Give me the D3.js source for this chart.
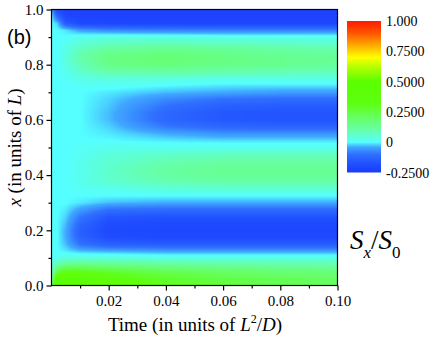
<!DOCTYPE html>
<html><head><meta charset="utf-8">
<script src="https://cdn.jsdelivr.net/npm/d3@7"></script>
<style>
body{margin:0;background:#fff}svg{display:block}
.serif, .serif text{font-family:"Liberation Serif","Times New Roman","DejaVu Serif",serif;}
svg text.sans{font-family:"Liberation Sans",Arial,"DejaVu Sans",sans-serif;}
</style>
</head><body>
<script>
// ---- data ----
const times = [0, 0.002, 0.005, 0.01, 0.02, 0.04, 0.06, 0.08, 0.1];
const positions = [1.000,0.975,0.950,0.925,0.900,0.875,0.850,0.825,0.800,0.775,0.750,0.725,0.700,0.675,0.650,0.625,0.600,0.575,0.550,0.525,0.500,0.475,0.450,0.425,0.400,0.375,0.350,0.325,0.300,0.275,0.250,0.225,0.200,0.175,0.150,0.125,0.100,0.075,0.050,0.025,0.000];
const values = [
 [-0.05,-0.20,-0.22,-0.22,-0.22,-0.22,-0.22,-0.22,-0.22],
 [ 0.00,-0.12,-0.21,-0.22,-0.22,-0.22,-0.22,-0.22,-0.22],
 [ 0.00,-0.02,-0.15,-0.20,-0.21,-0.21,-0.21,-0.21,-0.21],
 [ 0.00, 0.00,-0.01,-0.05,-0.07,-0.08,-0.08,-0.08,-0.08],
 [ 0.00, 0.00, 0.00, 0.02, 0.03, 0.03, 0.02, 0.02, 0.02],
 [ 0.00, 0.00, 0.02, 0.05, 0.08, 0.09, 0.08, 0.07, 0.06],
 [ 0.00, 0.00, 0.03, 0.08, 0.13, 0.15, 0.14, 0.12, 0.11],
 [ 0.00, 0.00, 0.04, 0.10, 0.16, 0.18, 0.16, 0.14, 0.13],
 [ 0.00, 0.00, 0.03, 0.08, 0.15, 0.17, 0.15, 0.14, 0.12],
 [ 0.00, 0.00, 0.02, 0.06, 0.10, 0.11, 0.10, 0.09, 0.08],
 [ 0.00, 0.00, 0.01, 0.03, 0.04, 0.04, 0.03, 0.03, 0.03],
 [ 0.00, 0.00, 0.00, 0.01, 0.01, 0.00,-0.01,-0.01,-0.01],
 [ 0.00, 0.00, 0.00, 0.00,-0.01,-0.03,-0.04,-0.05,-0.05],
 [ 0.00, 0.00, 0.00, 0.00,-0.02,-0.07,-0.10,-0.11,-0.11],
 [ 0.00, 0.00, 0.00, 0.00,-0.025,-0.10,-0.14,-0.15,-0.15],
 [ 0.00, 0.00, 0.00, 0.00,-0.03,-0.12,-0.16,-0.17,-0.17],
 [ 0.00, 0.00, 0.00, 0.00,-0.03,-0.12,-0.16,-0.17,-0.17],
 [ 0.00, 0.00, 0.00, 0.00,-0.02,-0.09,-0.12,-0.13,-0.13],
 [ 0.00, 0.00, 0.00, 0.00,-0.01,-0.04,-0.06,-0.06,-0.06],
 [ 0.00, 0.00, 0.00, 0.00, 0.00,-0.01,-0.015,-0.015,-0.015],
 [ 0.00, 0.00, 0.00, 0.01, 0.02, 0.02, 0.02, 0.02, 0.02],
 [ 0.00, 0.00, 0.00, 0.01, 0.04, 0.06, 0.07, 0.07, 0.07],
 [ 0.00, 0.00, 0.00, 0.02, 0.05, 0.09, 0.11, 0.11, 0.11],
 [ 0.00, 0.00, 0.00, 0.02, 0.06, 0.11, 0.13, 0.13, 0.13],
 [ 0.00, 0.00, 0.00, 0.02, 0.06, 0.11, 0.13, 0.13, 0.13],
 [ 0.00, 0.00, 0.00, 0.02, 0.05, 0.09, 0.10, 0.10, 0.10],
 [ 0.00, 0.00, 0.00, 0.01, 0.02, 0.04, 0.05, 0.05, 0.05],
 [ 0.00, 0.00, 0.00, 0.00, 0.00, 0.00, 0.00, 0.00, 0.00],
 [ 0.00, 0.00, 0.00,-0.01,-0.03,-0.04,-0.04,-0.04,-0.04],
 [ 0.00, 0.00,-0.01,-0.05,-0.10,-0.11,-0.11,-0.11,-0.11],
 [ 0.00, 0.00,-0.02,-0.09,-0.16,-0.17,-0.17,-0.17,-0.17],
 [ 0.00, 0.00,-0.03,-0.12,-0.19,-0.20,-0.20,-0.20,-0.20],
 [ 0.00, 0.00,-0.04,-0.14,-0.20,-0.21,-0.21,-0.21,-0.21],
 [ 0.00, 0.00,-0.04,-0.13,-0.19,-0.20,-0.20,-0.20,-0.20],
 [ 0.00, 0.00,-0.03,-0.10,-0.14,-0.15,-0.15,-0.15,-0.15],
 [ 0.00, 0.00,-0.01,-0.03,-0.04,-0.05,-0.05,-0.05,-0.05],
 [ 0.00, 0.02, 0.03, 0.04, 0.04, 0.03, 0.03, 0.03, 0.03],
 [ 0.02, 0.10, 0.15, 0.16, 0.15, 0.13, 0.12, 0.11, 0.10],
 [ 0.05, 0.25, 0.32, 0.31, 0.28, 0.23, 0.20, 0.18, 0.17],
 [ 0.10, 0.42, 0.45, 0.40, 0.35, 0.28, 0.24, 0.22, 0.20],
 [ 0.20, 0.55, 0.50, 0.44, 0.38, 0.30, 0.26, 0.23, 0.21]
];
const xTicks = [0.02, 0.04, 0.06, 0.08, 0.10];
const yTicks = [0.0, 0.2, 0.4, 0.6, 0.8, 1.0];
const cbarTicks = [1.0, 0.75, 0.5, 0.25, 0, -0.25];
const cbarLabels = ["1.000", "0.7500", "0.5000", "0.2500", "0", "-0.2500"];
const cStops = [-0.25, -0.18, -0.1, -0.04, 0.0, 0.1, 0.2, 0.32, 0.5, 0.62, 0.7, 0.8, 0.9, 1.0];
const cColors = ["#1a3aff","#2050ff","#3070ff","#40a8ff","#55ffff","#66ffaa","#66ff66","#5eff10","#5aff00","#b4ff00","#ffff00","#ffaa00","#ff5500","#ff1a00"];

// ---- chart ----
const W = 436, H = 340;
const x = d3.scaleLinear().domain([0, 0.1]).range([51.5, 337.5]);
const y = d3.scaleLinear().domain([0, 1]).range([285.5, 9.5]);
const color = d3.scaleLinear().domain(cStops).range(cColors).interpolate(d3.interpolateRgb).clamp(true);

const svg = d3.select("body").append("svg").attr("width", W).attr("height", H).attr("class", "serif");

// heatmap via canvas, bilinear interpolation between read grid values
const x0 = Math.round(x(0)), x1 = Math.round(x(0.1)), y0 = Math.round(y(1)), y1 = Math.round(y(0));
const cw = x1 - x0, ch = y1 - y0;
const canvas = document.createElement("canvas");
canvas.width = cw; canvas.height = ch;
const ctx = canvas.getContext("2d");
const img = ctx.createImageData(cw, ch);
const tb = d3.bisector(d => d).right;
const posAsc = positions.slice().reverse();
const valAsc = values.slice().reverse();
for (let j = 0; j < ch; j++) {
  const p = Math.max(0, Math.min(1, y.invert(y0 + j + 0.5)));
  const pi = Math.min(posAsc.length - 2, Math.max(0, tb(posAsc, p) - 1));
  const pf = (p - posAsc[pi]) / (posAsc[pi + 1] - posAsc[pi]);
  for (let i = 0; i < cw; i++) {
    const t = Math.max(0, Math.min(0.1, x.invert(x0 + i + 0.5)));
    const ti = Math.min(times.length - 2, Math.max(0, tb(times, t) - 1));
    const tf = (t - times[ti]) / (times[ti + 1] - times[ti]);
    const a = valAsc[pi][ti] * (1 - tf) + valAsc[pi][ti + 1] * tf;
    const b = valAsc[pi + 1][ti] * (1 - tf) + valAsc[pi + 1][ti + 1] * tf;
    const v = a * (1 - pf) + b * pf;
    const c = d3.rgb(color(v));
    const k = (j * cw + i) * 4;
    img.data[k] = c.r; img.data[k + 1] = c.g; img.data[k + 2] = c.b; img.data[k + 3] = 255;
  }
}
ctx.putImageData(img, 0, 0);
svg.append("image").attr("x", x0).attr("y", y0).attr("width", cw).attr("height", ch)
  .attr("preserveAspectRatio", "none").attr("href", canvas.toDataURL());

// frame
svg.append("rect").attr("x", x(0)).attr("y", y(1)).attr("width", x(0.1) - x(0)).attr("height", y(0) - y(1))
  .attr("fill", "none").attr("stroke", "#000").attr("stroke-width", 1.2);

// axes
const xAxis = svg.append("g").attr("transform", `translate(0,${y(0)})`)
  .call(d3.axisBottom(x).tickValues(xTicks).tickFormat(d3.format(".2f")).tickSize(5).tickPadding(5));
const xMinor = svg.append("g").attr("transform", `translate(0,${y(0)})`)
  .call(d3.axisBottom(x).tickValues([0.01, 0.03, 0.05, 0.07, 0.09]).tickFormat("").tickSize(3));
const yAxis = svg.append("g").attr("transform", `translate(${x(0)},0)`)
  .call(d3.axisLeft(y).tickValues(yTicks).tickFormat(d3.format(".1f")).tickSize(5).tickPadding(3));
const yMinor = svg.append("g").attr("transform", `translate(${x(0)},0)`)
  .call(d3.axisLeft(y).tickValues([0.1, 0.3, 0.5, 0.7, 0.9]).tickFormat("").tickSize(3));
[xAxis, xMinor, yAxis, yMinor].forEach(g => {
  g.attr("font-family", null).attr("class", "serif");
  g.select(".domain").remove();
  g.selectAll("line").attr("stroke", "#000").attr("stroke-width", 1.2);
  g.selectAll("text").attr("font-size", 15).attr("fill", "#000");
});

// axis titles
const xt = svg.append("text").attr("x", 195).attr("y", 331).attr("text-anchor", "middle")
  .attr("font-size", 19);
xt.append("tspan").text("Time (in units of ");
xt.append("tspan").attr("font-style", "italic").text("L");
xt.append("tspan").attr("font-size", 12).attr("dy", -8).text("2");
xt.append("tspan").attr("dy", 8).text("/");
xt.append("tspan").attr("font-style", "italic").text("D");
xt.append("tspan").text(")");

const yt = svg.append("text").attr("transform", `translate(21,${y(0.5)}) rotate(-90)`).attr("text-anchor", "middle")
  .attr("font-size", 19);
yt.append("tspan").attr("font-style", "italic").text("x");
yt.append("tspan").text(" (in units of ");
yt.append("tspan").attr("font-style", "italic").text("L");
yt.append("tspan").text(")");

svg.append("text").attr("class", "sans").attr("x", 7).attr("y", 44).attr("font-size", 20).text("(b)");

// colorbar
const cb = d3.scaleLinear().domain([-0.25, 1]).range([172.5, 21]);
const defs = svg.append("defs");
const grad = defs.append("linearGradient").attr("id", "cbg").attr("x1", 0).attr("y1", 1).attr("x2", 0).attr("y2", 0);
cStops.forEach((s, i) => grad.append("stop").attr("offset", (s + 0.25) / 1.25).attr("stop-color", cColors[i]));
svg.append("rect").attr("x", 347).attr("y", cb(1)).attr("width", 34).attr("height", cb(-0.25) - cb(1)).attr("fill", "url(#cbg)");
svg.append("g").selectAll("text").data(cbarTicks).join("text")
  .attr("x", 386).attr("y", d => cb(d) + 5).attr("font-size", 14)
  .text((d, i) => cbarLabels[i]);

// S_x / S_0
const st = svg.append("text").attr("x", 350).attr("y", 249).attr("font-size", 27).attr("font-style", "italic");
st.append("tspan").text("S");
st.append("tspan").attr("font-size", 17).attr("dy", 9).text("x");
st.append("tspan").attr("dy", -9).attr("font-style", "normal").text("/");
st.append("tspan").text("S");
st.append("tspan").attr("font-size", 17).attr("dy", 9).attr("font-style", "normal").text("0");
</script>
</body></html>
